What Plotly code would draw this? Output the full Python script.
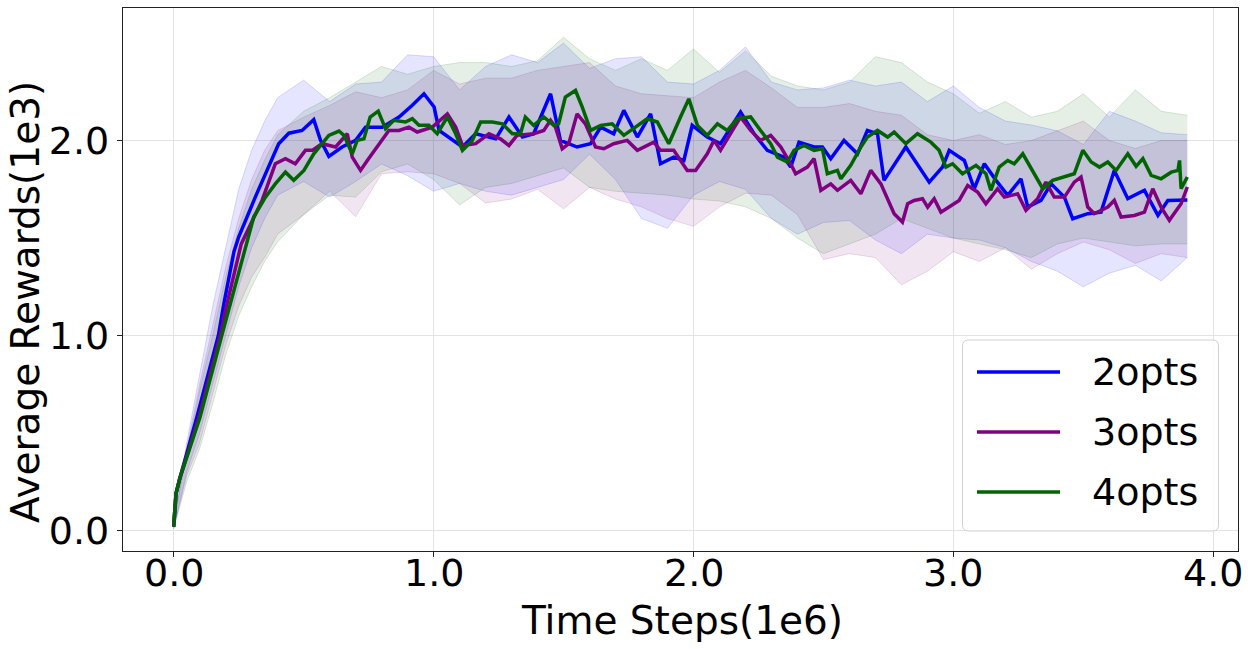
import plotly.graph_objects as go

# ---------------- data (x in 1e6 steps, y in 1e3 reward) ----------------
series_names = ["2opts", "3opts", "4opts"]

x_2opts = [0, 0.009, 0.024, 0.089, 0.172, 0.193, 0.232, 0.250, 0.314, 0.353, 0.404, 0.443, 0.494, 0.539,
           0.565, 0.597, 0.648, 0.700, 0.738, 0.802, 0.867, 0.918, 0.963, 1.002, 1.021, 1.111, 1.162, 1.239,
           1.290, 1.342, 1.385, 1.450, 1.488, 1.552, 1.604, 1.643, 1.693, 1.732, 1.784, 1.835, 1.873, 1.924,
           1.963, 1.995, 2.053, 2.104, 2.181, 2.233, 2.284, 2.348, 2.374, 2.406, 2.464, 2.496, 2.528, 2.579,
           2.631, 2.669, 2.708, 2.733, 2.817, 2.907, 2.958, 2.984, 3.042, 3.080, 3.119, 3.164, 3.209, 3.260,
           3.286, 3.337, 3.376, 3.427, 3.459, 3.517, 3.568, 3.619, 3.671, 3.735, 3.787, 3.825, 3.9]
y_2opts = [0.02, 0.19, 0.27, 0.58, 1.0, 1.163, 1.43, 1.505, 1.71, 1.83, 1.984, 2.038, 2.052, 2.107,
           2.001, 1.919, 1.967, 2.001, 2.069, 2.069, 2.121, 2.181, 2.240, 2.172, 2.052, 1.967, 2.035, 2.009,
           2.121, 2.018, 2.035, 2.240, 2.001, 1.967, 1.984, 2.069, 2.035, 2.155, 2.018, 2.137, 1.881, 1.915,
           1.898, 2.078, 2.018, 1.984, 2.146, 2.035, 1.950, 1.915, 1.864, 1.992, 1.967, 1.967, 1.907, 2.001,
           1.932, 2.052, 2.035, 1.796, 1.967, 1.787, 1.864, 1.950, 1.898, 1.753, 1.881, 1.796, 1.719, 1.804,
           1.659, 1.693, 1.778, 1.710, 1.599, 1.625, 1.633, 1.847, 1.702, 1.745, 1.616, 1.693, 1.695]

x_3opts = [0, 0.009, 0.024, 0.097, 0.179, 0.205, 0.26, 0.340, 0.391, 0.430, 0.468, 0.507, 0.533, 0.571,
           0.623, 0.668, 0.687, 0.719, 0.745, 0.790, 0.828, 0.867, 0.905, 0.937, 0.995, 1.053, 1.085, 1.111,
           1.162, 1.213, 1.257, 1.290, 1.321, 1.385, 1.424, 1.450, 1.469, 1.495, 1.520, 1.552, 1.584, 1.623,
           1.655, 1.693, 1.745, 1.784, 1.847, 1.873, 1.924, 1.976, 2.008, 2.053, 2.079, 2.104, 2.156, 2.181,
           2.220, 2.258, 2.297, 2.336, 2.374, 2.393, 2.438, 2.464, 2.490, 2.528, 2.554, 2.605, 2.644, 2.682,
           2.721, 2.772, 2.804, 2.824, 2.849, 2.881, 2.901, 2.926, 2.952, 2.990, 3.022, 3.055, 3.093, 3.125,
           3.170, 3.196, 3.247, 3.279, 3.324, 3.356, 3.388, 3.427, 3.465, 3.491, 3.517, 3.542, 3.594, 3.619,
           3.645, 3.696, 3.735, 3.767, 3.799, 3.831, 3.876, 3.9]
y_3opts = [0.02, 0.19, 0.27, 0.58, 1.0, 1.163, 1.47, 1.693, 1.881, 1.907, 1.881, 1.950, 1.950, 1.984,
           1.967, 2.035, 1.915, 1.847, 1.898, 1.984, 2.052, 2.052, 2.069, 2.044, 2.069, 2.137, 2.069, 1.975,
           1.984, 2.035, 2.009, 1.975, 2.027, 2.035, 2.052, 2.104, 2.069, 1.958, 1.984, 2.137, 2.086, 1.967,
           1.958, 1.984, 2.001, 1.950, 1.992, 1.950, 1.950, 1.847, 1.847, 1.932, 2.001, 1.950, 2.069, 2.121,
           2.052, 2.001, 2.027, 1.967, 1.881, 1.830, 1.864, 1.907, 1.745, 1.778, 1.745, 1.796, 1.727, 1.847,
           1.778, 1.625, 1.582, 1.676, 1.693, 1.702, 1.659, 1.702, 1.633, 1.668, 1.693, 1.770, 1.736, 1.676,
           1.753, 1.710, 1.727, 1.642, 1.702, 1.787, 1.710, 1.710, 1.787, 1.813, 1.659, 1.625, 1.659, 1.693,
           1.608, 1.616, 1.633, 1.753, 1.659, 1.591, 1.676, 1.762]

x_4opts = [0, 0.009, 0.024, 0.101, 0.185, 0.218, 0.265, 0.308, 0.353, 0.391, 0.430, 0.462, 0.501, 0.539,
           0.571, 0.597, 0.636, 0.655, 0.687, 0.706, 0.732, 0.756, 0.787, 0.815, 0.847, 0.892, 0.918, 0.944,
           0.982, 1.014, 1.053, 1.085, 1.111, 1.149, 1.181, 1.226, 1.265, 1.303, 1.334, 1.353, 1.385, 1.424,
           1.462, 1.481, 1.507, 1.546, 1.572, 1.604, 1.643, 1.687, 1.732, 1.770, 1.822, 1.861, 1.905, 1.950,
           1.982, 2.015, 2.053, 2.092, 2.130, 2.169, 2.220, 2.258, 2.297, 2.323, 2.361, 2.387, 2.425, 2.464,
           2.496, 2.515, 2.554, 2.567, 2.605, 2.644, 2.669, 2.708, 2.747, 2.772, 2.817, 2.862, 2.913, 2.945,
           2.971, 2.997, 3.035, 3.087, 3.125, 3.144, 3.176, 3.209, 3.234, 3.267, 3.305, 3.344, 3.382, 3.427,
           3.465, 3.498, 3.530, 3.562, 3.594, 3.626, 3.671, 3.703, 3.729, 3.761, 3.799, 3.838, 3.864, 3.870,
           3.876, 3.9]
y_4opts = [0.02, 0.19, 0.27, 0.58, 1.0, 1.163, 1.40, 1.608, 1.710, 1.778, 1.838, 1.796, 1.847, 1.932,
           1.984, 2.027, 2.049, 2.027, 1.932, 2.001, 2.009, 2.121, 2.151, 2.061, 2.104, 2.095, 2.112, 2.078,
           2.078, 2.035, 2.121, 2.035, 1.950, 2.001, 2.095, 2.095, 2.086, 2.035, 2.035, 2.121, 2.078, 2.121,
           2.078, 2.086, 2.223, 2.257, 2.172, 2.052, 2.078, 2.086, 2.027, 2.061, 2.112, 2.095, 1.984, 2.121,
           2.214, 2.078, 2.027, 2.086, 2.052, 2.112, 2.121, 2.052, 1.984, 1.915, 1.890, 1.950, 1.975, 1.950,
           1.958, 1.830, 1.847, 1.804, 1.873, 1.967, 2.018, 2.052, 2.018, 2.044, 1.984, 2.035, 1.992, 1.950,
           1.864, 1.881, 1.830, 1.873, 1.830, 1.745, 1.864, 1.898, 1.881, 1.932, 1.847, 1.753, 1.796, 1.813,
           1.830, 1.950, 1.890, 1.864, 1.890, 1.847, 1.932, 1.868, 1.907, 1.822, 1.804, 1.838, 1.847, 1.898,
           1.753, 1.813]

# band (mean +/- spread) sampled on a coarser grid
x_band = [0, 0.05, 0.1, 0.15, 0.2, 0.25, 0.3, 0.35, 0.4, 0.5, 0.6, 0.7, 0.8, 0.9, 1.0, 1.1, 1.2, 1.3,
          1.4, 1.5, 1.6, 1.7, 1.8, 1.9, 2.0, 2.1, 2.2, 2.3, 2.4, 2.5, 2.6, 2.7, 2.8, 2.9, 3.0, 3.1, 3.2,
          3.3, 3.4, 3.5, 3.6, 3.7, 3.8, 3.9]
upper_2opts = [0.03, 0.45, 0.80, 1.15, 1.45, 1.75, 1.95, 2.10, 2.22, 2.31, 2.20, 2.29, 2.30, 2.44, 2.43,
               2.26, 2.38, 2.44, 2.40, 2.50, 2.37, 2.42, 2.43, 2.30, 2.29, 2.36, 2.48, 2.30, 2.26, 2.27,
               2.31, 2.28, 2.30, 2.20, 2.28, 2.17, 2.10, 2.08, 2.05, 1.98, 2.15, 2.10, 2.04, 2.03]
lower_2opts = [0.01, 0.30, 0.50, 0.75, 1.00, 1.25, 1.45, 1.60, 1.72, 1.79, 1.71, 1.79, 1.88, 1.82, 1.74,
               1.78, 1.74, 1.72, 1.76, 1.80, 1.93, 1.80, 1.60, 1.55, 1.72, 1.79, 1.75, 1.60, 1.52, 1.58,
               1.59, 1.49, 1.42, 1.52, 1.50, 1.49, 1.45, 1.38, 1.33, 1.25, 1.32, 1.36, 1.28, 1.40]
upper_3opts = [0.03, 0.42, 0.75, 1.05, 1.35, 1.60, 1.80, 1.95, 2.05, 2.12, 2.18, 2.25, 2.22, 2.26, 2.36,
               2.29, 2.32, 2.32, 2.36, 2.38, 2.40, 2.28, 2.24, 2.23, 2.22, 2.30, 2.36, 2.27, 2.17, 2.17,
               2.19, 2.15, 2.13, 2.03, 2.00, 2.03, 1.98, 2.00, 2.05, 2.10, 2.00, 1.96, 2.00, 2.00]
lower_3opts = [0.01, 0.28, 0.45, 0.70, 0.95, 1.15, 1.30, 1.40, 1.52, 1.62, 1.74, 1.61, 1.83, 1.84, 1.83,
               1.78, 1.68, 1.70, 1.75, 1.65, 1.76, 1.70, 1.66, 1.60, 1.56, 1.66, 1.73, 1.72, 1.62, 1.39,
               1.42, 1.40, 1.26, 1.33, 1.43, 1.38, 1.45, 1.34, 1.42, 1.48, 1.44, 1.37, 1.42, 1.40]
upper_4opts = [0.03, 0.40, 0.72, 1.00, 1.30, 1.55, 1.75, 1.90, 2.03, 2.15, 2.22, 2.30, 2.38, 2.34, 2.38,
               2.40, 2.40, 2.38, 2.41, 2.53, 2.42, 2.36, 2.42, 2.36, 2.47, 2.35, 2.46, 2.33, 2.28, 2.26,
               2.30, 2.43, 2.40, 2.30, 2.24, 2.14, 2.20, 2.12, 2.15, 2.24, 2.12, 2.26, 2.15, 2.13]
lower_4opts = [0.01, 0.25, 0.42, 0.65, 0.90, 1.10, 1.25, 1.38, 1.48, 1.62, 1.72, 1.71, 1.84, 1.88, 1.80,
               1.67, 1.76, 1.78, 1.82, 1.86, 1.76, 1.74, 1.73, 1.72, 1.70, 1.69, 1.66, 1.60, 1.50, 1.42,
               1.47, 1.52, 1.60, 1.55, 1.50, 1.47, 1.44, 1.40, 1.47, 1.50, 1.48, 1.46, 1.47, 1.47]

x_tick_vals = [0, 1, 2, 3, 4]
x_tick_text = ["0.0", "1.0", "2.0", "3.0", "4.0"]
y_tick_vals = [0, 1, 2]
y_tick_text = ["0.0", "1.0", "2.0"]
x_title = "Time Steps(1e6)"
y_title = "Average Rewards(1e3)"

line_colors = ["#0000ff", "#800080", "#006400"]
fill_colors = ["rgba(0,0,255,0.10)", "rgba(128,0,128,0.10)", "rgba(0,100,0,0.10)"]
edge_colors = ["rgba(0,0,255,0.14)", "rgba(128,0,128,0.14)", "rgba(0,100,0,0.14)"]

lines_x = [x_2opts, x_3opts, x_4opts]
lines_y = [y_2opts, y_3opts, y_4opts]
uppers = [upper_2opts, upper_3opts, upper_4opts]
lowers = [lower_2opts, lower_3opts, lower_4opts]

FONT = "DejaVu Sans"
W, H = 1250, 649
ML, MR, MT, MB = 123, 12, 8, 98
PW, PH = W - ML - MR, H - MT - MB

fig = go.Figure()

for i in range(3):
    fig.add_trace(go.Scatter(x=x_band, y=lowers[i], mode="lines",
                             line=dict(color=edge_colors[i], width=1),
                             hoverinfo="skip", showlegend=False))
    fig.add_trace(go.Scatter(x=x_band, y=uppers[i], mode="lines", fill="tonexty",
                             fillcolor=fill_colors[i],
                             line=dict(color=edge_colors[i], width=1),
                             hoverinfo="skip", showlegend=False))

for i in range(3):
    fig.add_trace(go.Scatter(x=lines_x[i], y=lines_y[i], mode="lines", name=series_names[i],
                             line=dict(color=line_colors[i], width=3.5), showlegend=False))


def px_to_paper(px, py):
    return (px - ML) / PW, (H - MB - py) / PH


# ---- legend drawn in paper coordinates (matplotlib style, long handles) ----
lx0, ly0 = px_to_paper(962.5, 531)
lx1, ly1 = px_to_paper(1218.5, 340)
r_x, r_y = 6 / PW, 6 / PH
path = (f"M {lx0 + r_x},{ly0} L {lx1 - r_x},{ly0} Q {lx1},{ly0} {lx1},{ly0 + r_y} "
        f"L {lx1},{ly1 - r_y} Q {lx1},{ly1} {lx1 - r_x},{ly1} "
        f"L {lx0 + r_x},{ly1} Q {lx0},{ly1} {lx0},{ly1 - r_y} "
        f"L {lx0},{ly0 + r_y} Q {lx0},{ly0} {lx0 + r_x},{ly0} Z")
shapes = [dict(type="path", xref="paper", yref="paper", path=path,
               fillcolor="rgba(255,255,255,0.8)", line=dict(color="rgba(204,204,204,0.9)", width=1),
               layer="above")]
annotations = []
row_py = [372, 432, 492]
for i in range(3):
    hx0, hy = px_to_paper(977, row_py[i])
    hx1, _ = px_to_paper(1060, row_py[i])
    shapes.append(dict(type="line", xref="paper", yref="paper", x0=hx0, x1=hx1, y0=hy, y1=hy,
                       line=dict(color=line_colors[i], width=3.5), layer="above"))
    tx, _ = px_to_paper(1090, row_py[i])
    annotations.append(dict(xref="paper", yref="paper", x=tx, y=hy, text=series_names[i],
                            showarrow=False, xanchor="left", yanchor="middle",
                            font=dict(family=FONT, size=38, color="black")))

# x tick labels, placed on the x data scale just below the axis
_, xl_y = px_to_paper(0, 572.5)
for v, t in zip(x_tick_vals, x_tick_text):
    annotations.append(dict(xref="x", yref="paper", x=v, y=xl_y, text=t, showarrow=False,
                            xanchor="center", yanchor="middle",
                            font=dict(family=FONT, size=38, color="black")))

# axis titles placed as in the reference
ytx, yty = px_to_paper(25, 302)
annotations.append(dict(xref="paper", yref="paper", x=ytx, y=yty, text=y_title, textangle=-90,
                        showarrow=False, xanchor="center", yanchor="middle",
                        font=dict(family=FONT, size=39, color="black")))
xtx, xty = px_to_paper(682, 620)
annotations.append(dict(xref="paper", yref="paper", x=xtx, y=xty, text=x_title,
                        showarrow=False, xanchor="center", yanchor="middle",
                        font=dict(family=FONT, size=39, color="black")))

fig.update_layout(
    width=W, height=H,
    margin=dict(l=ML, r=MR, t=MT, b=MB),
    paper_bgcolor="white", plot_bgcolor="white",
    font=dict(family=FONT, size=38, color="black"),
    shapes=shapes, annotations=annotations,
    showlegend=False,
    xaxis=dict(range=[-0.195, 4.095], tickvals=x_tick_vals, ticktext=x_tick_text,
               showticklabels=False,
               showgrid=True, gridcolor="#e3e3e3", gridwidth=1, zeroline=False,
               showline=True, linecolor="#222222", linewidth=1.2, mirror=True,
               ticks="outside", ticklen=5, tickcolor="#222222"),
    yaxis=dict(range=[-0.105, 2.68], tickvals=y_tick_vals, ticktext=y_tick_text,
               showgrid=True, gridcolor="#e3e3e3", gridwidth=1, zeroline=False,
               showline=True, linecolor="#222222", linewidth=1.2, mirror=True,
               ticks="outside", ticklen=5, tickcolor="#222222",
               tickfont=dict(family=FONT, size=38)),
)

fig.write_html("out.html")
